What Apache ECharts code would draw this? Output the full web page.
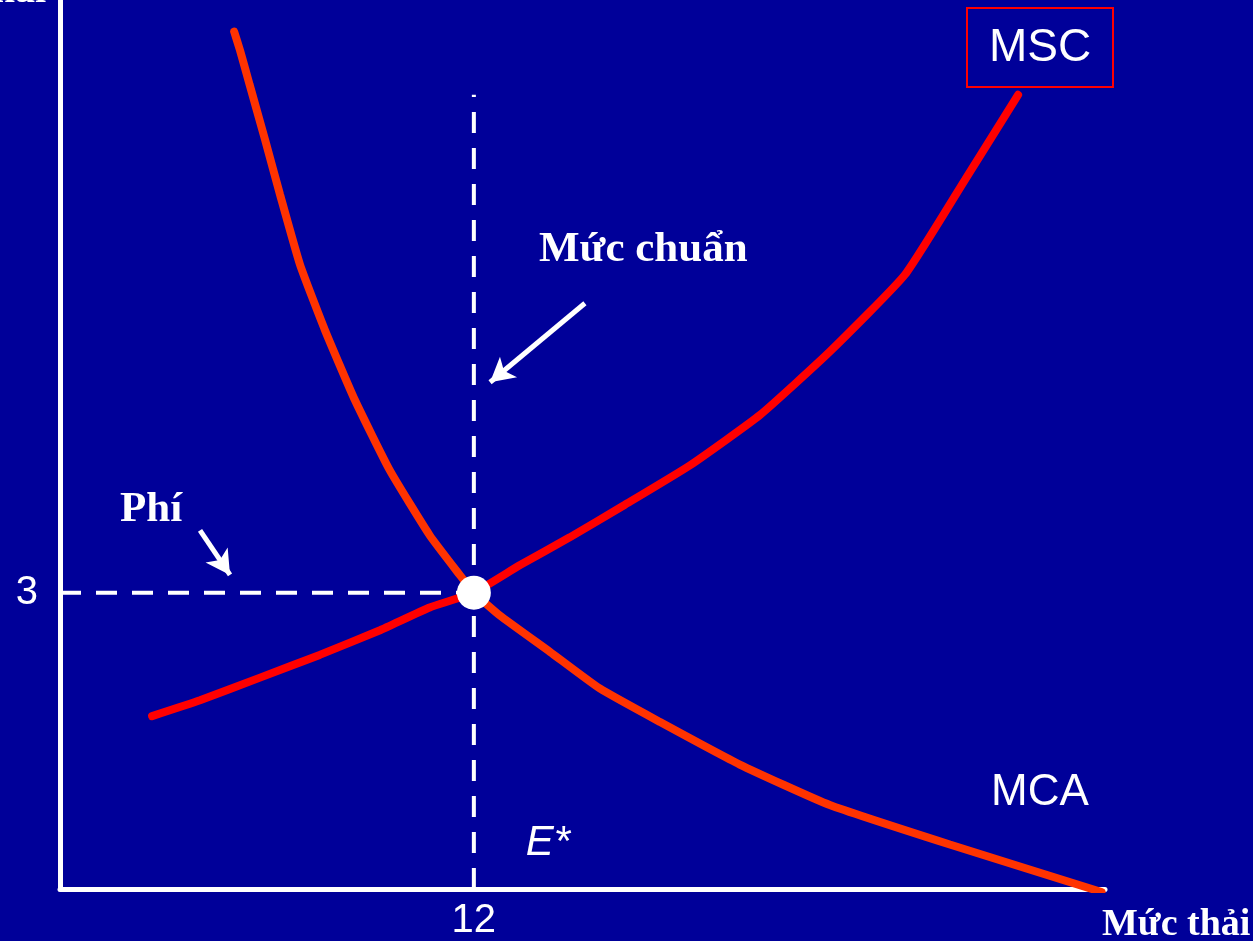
<!DOCTYPE html>
<html>
<head>
<meta charset="utf-8">
<script src="https://cdn.jsdelivr.net/npm/echarts@6/dist/echarts.min.js"></script>
<style>
    html, body { margin: 0; padding: 0; background: #000099; }
    #chart { width: 1253px; height: 941px; }
</style>
</head>
<body>
<div id="chart"></div>
<script>
    // duong MCA (chi phi giam thai bien)
    var mcaPoints = [
        [5.05, 8.68], [5.22, 8.49], [5.50, 8.14], [5.95, 7.58], [6.38, 7.03],
        [6.96, 6.32], [7.68, 5.66], [8.55, 4.95], [9.56, 4.24], [10.72, 3.58],
        [11.59, 3.18], [12, 3], [12.75, 2.77], [14.21, 2.40], [15.65, 2.03],
        [17.40, 1.69], [19.71, 1.26], [22.32, 0.85], [25.80, 0.45], [30.2, -0.03]
    ];
    // duong MSC (chi phi xa hoi bien)
    var mscPoints = [
        [2.67, 1.75], [4.06, 1.91], [5.80, 2.14], [7.53, 2.37], [9.28, 2.62],
        [10.72, 2.85], [12, 3], [13.34, 3.28], [14.78, 3.56], [16.38, 3.89],
        [18.27, 4.29], [20.30, 4.80], [22.32, 5.44], [24.50, 6.22], [26.24, 7.18],
        [27.78, 8.04]
    ];
    var eStar = [12, 3];          // diem can bang
    var xTicks = ['12'];
    var yTicks = ['3'];
    var standardTop = 8.04;       // dinh duong "Muc chuan"
    var arrowChuan = [[15.22, 5.93], [12.47, 5.13]];
    var arrowPhi = [[4.06, 3.63], [4.93, 3.18]];

    var mychart = echarts.init(document.getElementById('chart'));
    var white = '#ffffff';
    var dash = { color: white, width: 4, type: [21, 15] };

    mychart.setOption({
        backgroundColor: '#000099',
        animation: false,
        grid: { left: 60, top: 0, right: 148, bottom: 52 },
        xAxis: {
            type: 'value', min: 0, max: 30.3, interval: 6,
            splitLine: { show: false },
            axisTick: { show: false },
            axisLine: { lineStyle: { color: white, width: 5 } },
            axisLabel: {
                color: white, fontSize: 40, fontFamily: 'Liberation Sans', margin: 12,
                formatter: function (v) { return xTicks.indexOf(String(v)) >= 0 ? String(v) : ''; }
            }
        },
        yAxis: {
            type: 'value', min: 0, max: 9, interval: 3,
            splitLine: { show: false },
            axisTick: { show: false },
            axisLine: { lineStyle: { color: white, width: 5 } },
            axisLabel: {
                color: white, fontSize: 40, fontFamily: 'Liberation Sans', margin: 22,
                padding: [0, 0, 8, 0],
                formatter: function (v) { return yTicks.indexOf(String(v)) >= 0 ? String(v) : ''; }
            }
        },
        series: [
            {
                type: 'line', data: [[eStar[0], 0], [eStar[0], standardTop]],
                symbol: 'none', lineStyle: dash, z: 2
            },
            {
                type: 'line', data: [[0, eStar[1]], eStar],
                symbol: 'none', lineStyle: dash, z: 2,
                markLine: {
                    silent: true,
                    symbol: ['none', 'arrow'],
                    symbolSize: [20, 24],
                    label: { show: false },
                    lineStyle: { color: white, width: 5, type: 'solid' },
                    data: [
                        [{ coord: arrowChuan[0] }, { coord: arrowChuan[1] }],
                        [{ coord: arrowPhi[0] }, { coord: arrowPhi[1] }]
                    ]
                }
            },
            {
                name: 'MSC', type: 'line', data: mscPoints, smooth: 0.15,
                symbol: 'none', lineStyle: { color: '#ff0000', width: 8, cap: 'round' }, z: 3
            },
            {
                name: 'MCA', type: 'line', data: mcaPoints, smooth: 0.15,
                symbol: 'none', lineStyle: { color: '#ff3300', width: 8, cap: 'round' }, z: 4
            },
            {
                type: 'scatter', data: [eStar], symbolSize: 34,
                itemStyle: { color: white, opacity: 1 }, z: 10
            }
        ],
        graphic: [
            { type: 'text', right: 1253 - 46, top: -28,
              style: { text: 'Mức phí thải', fill: white, font: 'bold 40px "Liberation Serif"' } },
            { type: 'rect', shape: { x: 967, y: 8, width: 146, height: 79 },
              style: { fill: 'none', stroke: '#ff0000', lineWidth: 2 } },
            { type: 'text', x: 1040, y: 48,
              style: { text: 'MSC', fill: white, font: '46px "Liberation Sans"', align: 'center', verticalAlign: 'middle' } },
            { type: 'text', x: 1040, y: 793,
              style: { text: 'MCA', fill: white, font: '44px "Liberation Sans"', align: 'center', verticalAlign: 'middle' } },
            { type: 'text', x: 548, y: 843,
              style: { text: 'E*', fill: white, font: 'italic 42px "Liberation Sans"', align: 'center', verticalAlign: 'middle' } },
            { type: 'text', x: 539, y: 250,
              style: { text: 'Mức chuẩn', fill: white, font: 'bold 43px "Liberation Serif"', verticalAlign: 'middle' } },
            { type: 'text', x: 120, y: 510,
              style: { text: 'Phí', fill: white, font: 'bold 43px "Liberation Serif"', verticalAlign: 'middle' } },
            { type: 'text', x: 1102, y: 925,
              style: { text: 'Mức thải', fill: white, font: 'bold 38px "Liberation Serif"', verticalAlign: 'middle' } }
        ]
    });
</script>
</body>
</html>
